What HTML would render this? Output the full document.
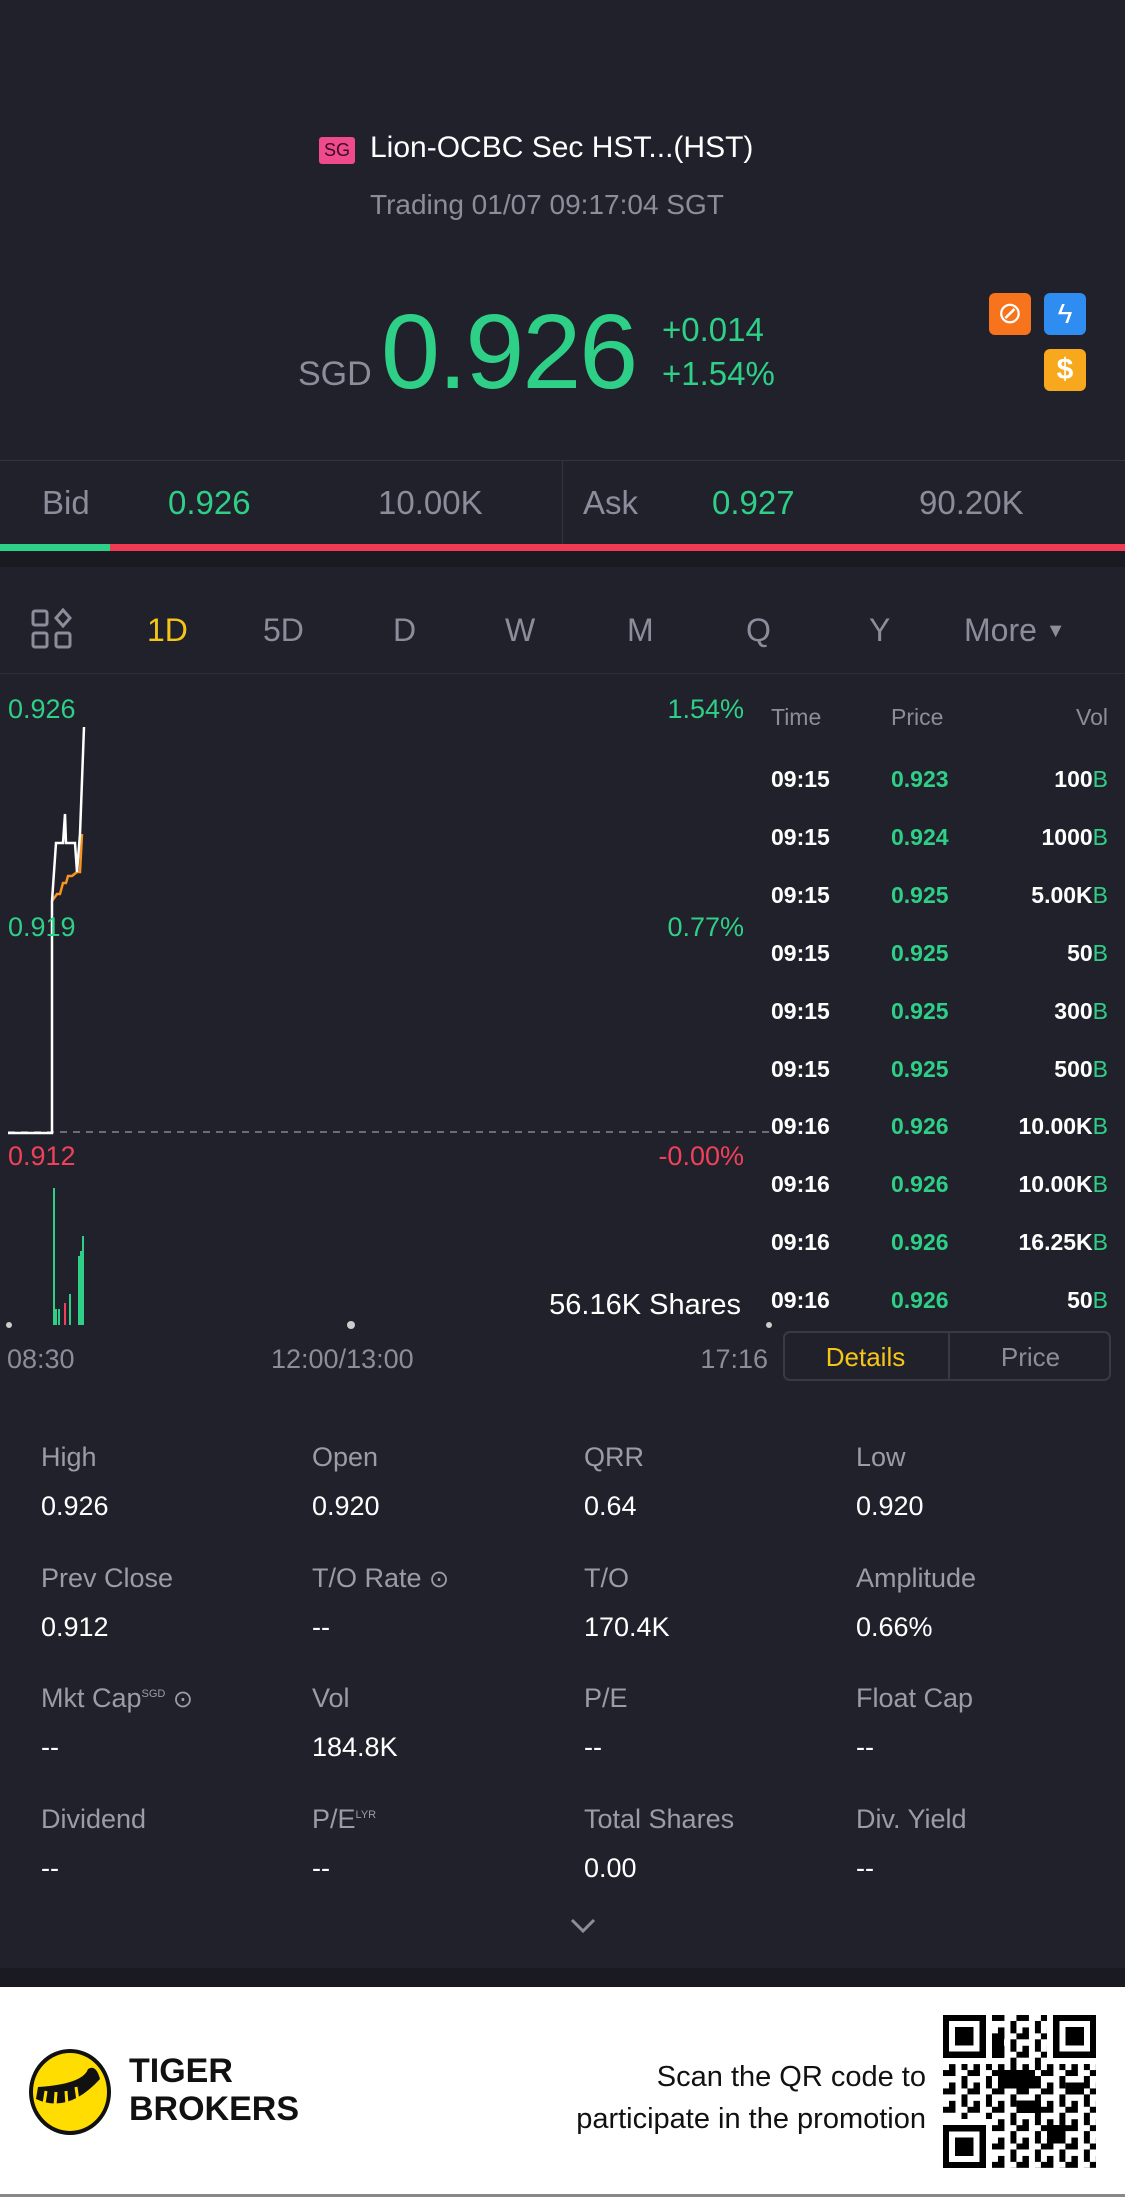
<!DOCTYPE html>
<html><head><meta charset="utf-8"><style>
*{margin:0;padding:0;box-sizing:border-box}
body{width:1125px;height:2197px;background:#20212b;font-family:"Liberation Sans",sans-serif;position:relative;overflow:hidden;color:#fff}
.a{position:absolute;white-space:nowrap}
.g{color:#2ecf86}.r{color:#f0405a}.m{color:#8b8d9b}.y{color:#f5c518}
.lbl{font-size:27px;color:#9a9ca8}.val{font-size:27px;color:#fff}
.row{position:absolute;left:771px;width:337px;font-size:23px;font-weight:bold}
.row span{position:absolute}
</style></head><body>
<!-- header -->
<div class="a" style="left:319px;top:137px;width:36px;height:27px;background:#ef4a8c;border-radius:3px;font-size:18px;color:#fff;text-align:center;line-height:27px;color:#3a0a20">SG</div>
<div class="a" style="left:370px;top:131px;font-size:30px">Lion-OCBC Sec HST...(HST)</div>
<div class="a m" style="left:370px;top:189px;font-size:28px">Trading 01/07 09:17:04 SGT</div>
<div class="a m" style="left:298px;top:355px;font-size:34px">SGD</div>
<div class="a g" style="left:381px;top:292px;font-size:106px;letter-spacing:-2px">0.926</div>
<div class="a g" style="left:662px;top:311px;font-size:33px">+0.014</div>
<div class="a g" style="left:662px;top:355px;font-size:33px">+1.54%</div>
<div class="a" style="left:989px;top:293px;width:42px;height:42px;background:#f7741c;border-radius:6px;color:#fff;font-size:30px;text-align:center;line-height:42px">⊘</div>
<div class="a" style="left:1044px;top:293px;width:42px;height:42px;background:#2f8cf0;border-radius:6px;color:#fff;font-size:28px;text-align:center;line-height:42px">ϟ</div>
<div class="a" style="left:1044px;top:349px;width:42px;height:42px;background:#f7a81c;border-radius:6px;color:#fff;font-size:30px;font-weight:bold;text-align:center;line-height:42px">$</div>
<!-- bid ask -->
<div class="a" style="left:0;top:460px;width:1125px;height:1px;background:#33343f"></div>
<div class="a" style="left:562px;top:460px;width:1px;height:84px;background:#33343f"></div>
<div class="a m" style="left:42px;top:484px;font-size:33px">Bid</div>
<div class="a g" style="left:168px;top:484px;font-size:33px">0.926</div>
<div class="a m" style="left:378px;top:484px;font-size:33px">10.00K</div>
<div class="a m" style="left:583px;top:484px;font-size:33px">Ask</div>
<div class="a g" style="left:712px;top:484px;font-size:33px">0.927</div>
<div class="a m" style="left:919px;top:484px;font-size:33px">90.20K</div>
<div class="a" style="left:0;top:544px;width:110px;height:7px;background:#2ecf86"></div>
<div class="a" style="left:110px;top:544px;width:1015px;height:7px;background:#f23a55"></div>
<div class="a" style="left:0;top:551px;width:1125px;height:16px;background:#191a22"></div>
<!-- tabs -->
<svg class="a" style="left:31px;top:608px" width="42" height="42" viewBox="0 0 42 42" fill="none" stroke="#8b8d9b" stroke-width="3"><rect x="2" y="3" width="14" height="14" rx="2"/><rect x="2" y="25" width="14" height="14" rx="2"/><rect x="25" y="25" width="14" height="14" rx="2"/><path d="M32 2 L39 10 L32 18 L25 10Z"/></svg>
<div class="a y" style="left:147px;top:612px;font-size:32px">1D</div>
<div class="a m" style="left:263px;top:612px;font-size:32px">5D</div>
<div class="a m" style="left:393px;top:612px;font-size:32px">D</div>
<div class="a m" style="left:505px;top:612px;font-size:32px">W</div>
<div class="a m" style="left:627px;top:612px;font-size:32px">M</div>
<div class="a m" style="left:746px;top:612px;font-size:32px">Q</div>
<div class="a m" style="left:869px;top:612px;font-size:32px">Y</div>
<div class="a m" style="left:964px;top:612px;font-size:32px">More <span style="font-size:20px;vertical-align:4px">▼</span></div>
<div class="a" style="left:0;top:673px;width:1125px;height:1px;background:#2c2d38"></div>
<!-- chart -->
<svg class="a" style="left:0;top:0" width="1125" height="1400">
<line x1="8" y1="1132" x2="770" y2="1132" stroke="#6a6c78" stroke-width="2" stroke-dasharray="7,6"/>
<polyline fill="none" stroke="#f7931e" stroke-width="2.5" points="52,901 57,894 60,894 63,883 66,883 68,876 72,876 77,872 80,872 82,834"/>
<polyline fill="none" stroke="#fff" stroke-width="2.5" points="8,1133 52,1133 52,901 56,843 63,843 65,814 66,843 75,843 77,872 80,834 84,727"/>
<g stroke="#2ecf86" stroke-width="2"><line x1="54" y1="1188" x2="54" y2="1325"/><line x1="56" y1="1309" x2="56" y2="1325"/><line x1="59" y1="1309" x2="59" y2="1325"/><line x1="70" y1="1294" x2="70" y2="1325"/><line x1="79" y1="1256" x2="79" y2="1325"/><line x1="81" y1="1251" x2="81" y2="1325"/><line x1="83" y1="1236" x2="83" y2="1325"/></g>
<line x1="65" y1="1303" x2="65" y2="1325" stroke="#f0405a" stroke-width="2"/>
<circle cx="9" cy="1325" r="3" fill="#ccc"/><circle cx="351" cy="1325" r="4" fill="#ccc"/><circle cx="769" cy="1325" r="3" fill="#ccc"/>
</svg>
<div class="a g" style="left:8px;top:694px;font-size:27px">0.926</div>
<div class="a g" style="left:8px;top:912px;font-size:27px">0.919</div>
<div class="a r" style="left:8px;top:1141px;font-size:27px">0.912</div>
<div class="a g" style="right:381px;top:694px;font-size:27px">1.54%</div>
<div class="a g" style="right:381px;top:912px;font-size:27px">0.77%</div>
<div class="a r" style="right:381px;top:1141px;font-size:27px">-0.00%</div>
<div class="a" style="right:384px;top:1289px;font-size:29px">56.16K Shares</div>
<div class="a m" style="left:7px;top:1344px;font-size:27px">08:30</div>
<div class="a m" style="left:271px;top:1344px;font-size:27px">12:00/13:00</div>
<div class="a m" style="right:357px;top:1344px;font-size:27px">17:16</div>
<!-- trades -->
<div class="a m" style="left:771px;top:704px;font-size:23px">Time</div>
<div class="a m" style="left:891px;top:704px;font-size:23px">Price</div>
<div class="a m" style="right:17px;top:704px;font-size:23px">Vol</div>
<div class="row" style="top:766px"><span style="left:0">09:15</span><span class="g" style="left:120px">0.923</span><span style="right:0">100<b class="g" style="font-weight:normal">B</b></span></div>
<div class="row" style="top:824px"><span style="left:0">09:15</span><span class="g" style="left:120px">0.924</span><span style="right:0">1000<b class="g" style="font-weight:normal">B</b></span></div>
<div class="row" style="top:882px"><span style="left:0">09:15</span><span class="g" style="left:120px">0.925</span><span style="right:0">5.00K<b class="g" style="font-weight:normal">B</b></span></div>
<div class="row" style="top:940px"><span style="left:0">09:15</span><span class="g" style="left:120px">0.925</span><span style="right:0">50<b class="g" style="font-weight:normal">B</b></span></div>
<div class="row" style="top:998px"><span style="left:0">09:15</span><span class="g" style="left:120px">0.925</span><span style="right:0">300<b class="g" style="font-weight:normal">B</b></span></div>
<div class="row" style="top:1056px"><span style="left:0">09:15</span><span class="g" style="left:120px">0.925</span><span style="right:0">500<b class="g" style="font-weight:normal">B</b></span></div>
<div class="row" style="top:1113px"><span style="left:0">09:16</span><span class="g" style="left:120px">0.926</span><span style="right:0">10.00K<b class="g" style="font-weight:normal">B</b></span></div>
<div class="row" style="top:1171px"><span style="left:0">09:16</span><span class="g" style="left:120px">0.926</span><span style="right:0">10.00K<b class="g" style="font-weight:normal">B</b></span></div>
<div class="row" style="top:1229px"><span style="left:0">09:16</span><span class="g" style="left:120px">0.926</span><span style="right:0">16.25K<b class="g" style="font-weight:normal">B</b></span></div>
<div class="row" style="top:1287px"><span style="left:0">09:16</span><span class="g" style="left:120px">0.926</span><span style="right:0">50<b class="g" style="font-weight:normal">B</b></span></div>
<div class="a" style="left:783px;top:1331px;width:328px;height:50px;border:2px solid #383a46;border-radius:7px"></div>
<div class="a" style="left:948px;top:1331px;width:2px;height:50px;background:#383a46"></div>
<div class="a y" style="left:783px;top:1342px;width:165px;text-align:center;font-size:26px">Details</div>
<div class="a m" style="left:950px;top:1342px;width:161px;text-align:center;font-size:26px">Price</div>
<!-- stats -->
<div class="a lbl" style="left:41px;top:1442px">High</div><div class="a val" style="left:41px;top:1491px">0.926</div>
<div class="a lbl" style="left:312px;top:1442px">Open</div><div class="a val" style="left:312px;top:1491px">0.920</div>
<div class="a lbl" style="left:584px;top:1442px">QRR</div><div class="a val" style="left:584px;top:1491px">0.64</div>
<div class="a lbl" style="left:856px;top:1442px">Low</div><div class="a val" style="left:856px;top:1491px">0.920</div>
<div class="a lbl" style="left:41px;top:1563px">Prev Close</div><div class="a val" style="left:41px;top:1612px">0.912</div>
<div class="a lbl" style="left:312px;top:1563px">T/O Rate <span style="font-size:24px">⊙</span></div><div class="a val" style="left:312px;top:1612px">--</div>
<div class="a lbl" style="left:584px;top:1563px">T/O</div><div class="a val" style="left:584px;top:1612px">170.4K</div>
<div class="a lbl" style="left:856px;top:1563px">Amplitude</div><div class="a val" style="left:856px;top:1612px">0.66%</div>
<div class="a lbl" style="left:41px;top:1683px">Mkt Cap<sup style="font-size:11px">SGD</sup> <span style="font-size:24px">⊙</span></div><div class="a val" style="left:41px;top:1732px">--</div>
<div class="a lbl" style="left:312px;top:1683px">Vol</div><div class="a val" style="left:312px;top:1732px">184.8K</div>
<div class="a lbl" style="left:584px;top:1683px">P/E</div><div class="a val" style="left:584px;top:1732px">--</div>
<div class="a lbl" style="left:856px;top:1683px">Float Cap</div><div class="a val" style="left:856px;top:1732px">--</div>
<div class="a lbl" style="left:41px;top:1804px">Dividend</div><div class="a val" style="left:41px;top:1853px">--</div>
<div class="a lbl" style="left:312px;top:1804px">P/E<sup style="font-size:11px">LYR</sup></div><div class="a val" style="left:312px;top:1853px">--</div>
<div class="a lbl" style="left:584px;top:1804px">Total Shares</div><div class="a val" style="left:584px;top:1853px">0.00</div>
<div class="a lbl" style="left:856px;top:1804px">Div. Yield</div><div class="a val" style="left:856px;top:1853px">--</div>
<svg class="a" style="left:569px;top:1917px" width="28" height="18"><polyline points="3,3 14,14 25,3" fill="none" stroke="#8b8d9b" stroke-width="3"/></svg>
<!-- footer -->
<div class="a" style="left:0;top:1968px;width:1125px;height:19px;background:#191a22"></div>
<div class="a" style="left:0;top:1987px;width:1125px;height:210px;background:#fff"></div>
<div class="a" style="left:0;top:2194px;width:1125px;height:3px;background:#888"></div>
<svg class="a" style="left:28px;top:2049px" width="84" height="86" viewBox="0 0 84 86"><ellipse cx="42" cy="43" rx="39" ry="41" fill="#ffdd00" stroke="#111" stroke-width="4"/><path d="M8 50 Q40 65 72 30 Q68 15 60 20 Q55 35 10 38" fill="#111"/><g stroke="#ffdd00" stroke-width="3"><line x1="18" y1="42" x2="16" y2="55"/><line x1="28" y1="43" x2="27" y2="57"/><line x1="38" y1="42" x2="39" y2="56"/><line x1="48" y1="38" x2="50" y2="52"/></g></svg>
<div class="a" style="left:129px;top:2052px;font-size:34px;font-weight:bold;color:#111;line-height:38px">TIGER<br>BROKERS</div>
<div class="a" style="right:199px;top:2056px;font-size:29px;color:#111;text-align:right;line-height:42px">Scan the QR code to<br>participate in the promotion</div>
<svg class="a" style="left:943px;top:2015px" width="153" height="153" viewBox="0 0 25 25" shape-rendering="crispEdges">
<defs><pattern id="p" width="4" height="3" patternUnits="userSpaceOnUse"><rect width="2" height="1" fill="#000"/><rect x="3" y="1" width="1" height="2" fill="#000"/><rect x="1" y="2" width="1" height="1" fill="#000"/></pattern></defs>
<rect width="25" height="25" fill="url(#p)"/>
<g fill="#000"><rect x="9" y="9" width="6" height="3"/><rect x="12" y="14" width="4" height="2"/><rect x="17" y="18" width="3" height="3"/><rect x="8" y="3" width="2" height="4"/><rect x="20" y="11" width="3" height="2"/></g>
<g><rect width="8" height="8" fill="#fff"/><rect x="17" width="8" height="8" fill="#fff"/><rect y="17" width="8" height="8" fill="#fff"/>
<rect x=".5" y=".5" width="6" height="6" fill="none" stroke="#000"/><rect x="2" y="2" width="3" height="3"/>
<rect x="18.5" y=".5" width="6" height="6" fill="none" stroke="#000"/><rect x="20" y="2" width="3" height="3"/>
<rect x=".5" y="18.5" width="6" height="6" fill="none" stroke="#000"/><rect x="2" y="20" width="3" height="3"/></g>
</svg>
</body></html>
